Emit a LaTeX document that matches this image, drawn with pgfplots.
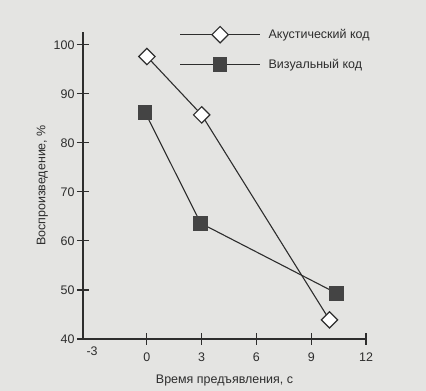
\documentclass[border=0pt]{standalone}
\usepackage{fontspec}
\setmainfont{Liberation Sans}
\usepackage{pgfplots}
\pgfplotsset{compat=1.18}
\definecolor{bg}{RGB}{228,228,226}
\definecolor{ink}{RGB}{45,45,45}
\definecolor{sq}{RGB}{68,68,68}
\begin{document}
\begin{tikzpicture}
\path[use as bounding box, fill=bg] (-83bp,-52bp) rectangle (343bp,339bp);
\begin{axis}[
  at={(0,0)}, anchor=south west,
  scale only axis, width=283bp, height=307bp,
  xmin=-3.5, xmax=12, ymin=40, ymax=102.6,
  axis lines=left, axis line style={ink, line width=1.1pt, -},
  xtick={0,3,6,9,12}, ytick={40,50,...,100},
  extra x ticks={-3}, extra x tick style={major tick length=0pt},
  major tick length=12bp,
  tick align=center, tick style={ink, line width=1.1pt},
  every tick label/.append style={font=\fontsize{12.5}{14}\selectfont, text=ink},
  /pgf/number format/assume math mode=true,
  yticklabel style={xshift=1bp},
  xticklabel style={yshift=-4bp},
  xlabel={Время предъявления, с},
  ylabel={Воспроизведение, \%},
  label style={font=\fontsize{12.5}{14}\selectfont, text=ink},
  xlabel style={yshift=-1bp},
  ylabel style={yshift=-1bp},
  legend style={draw=none, fill=none, at={(0.33,1.025)}, anchor=north west,
    font=\fontsize{12.5}{14}\selectfont, text=ink, row sep=14bp,
    cells={anchor=west}, nodes={inner xsep=8bp}},
  legend image code/.code={\draw[#1, mark repeat=2, mark phase=2] plot coordinates {(0bp,0bp) (40bp,0bp) (80bp,0bp)};},
  clip=false,
]
\addplot[ink, line width=1.1pt, mark=square*, mark size=5.8bp, mark options={rotate=45, fill=white, draw=ink, line width=1.2pt}]
  coordinates {(0,97.6) (3,85.7) (10.0,43.9)};
\addlegendentry{Акустический код}
\addplot[ink, line width=1.1pt, mark=square*, mark size=6.8bp, mark options={fill=sq, draw=sq}]
  coordinates {(-0.1,86.2) (2.95,63.6) (10.4,49.3)};
\addlegendentry{Визуальный код}
\end{axis}
\end{tikzpicture}
\end{document}
